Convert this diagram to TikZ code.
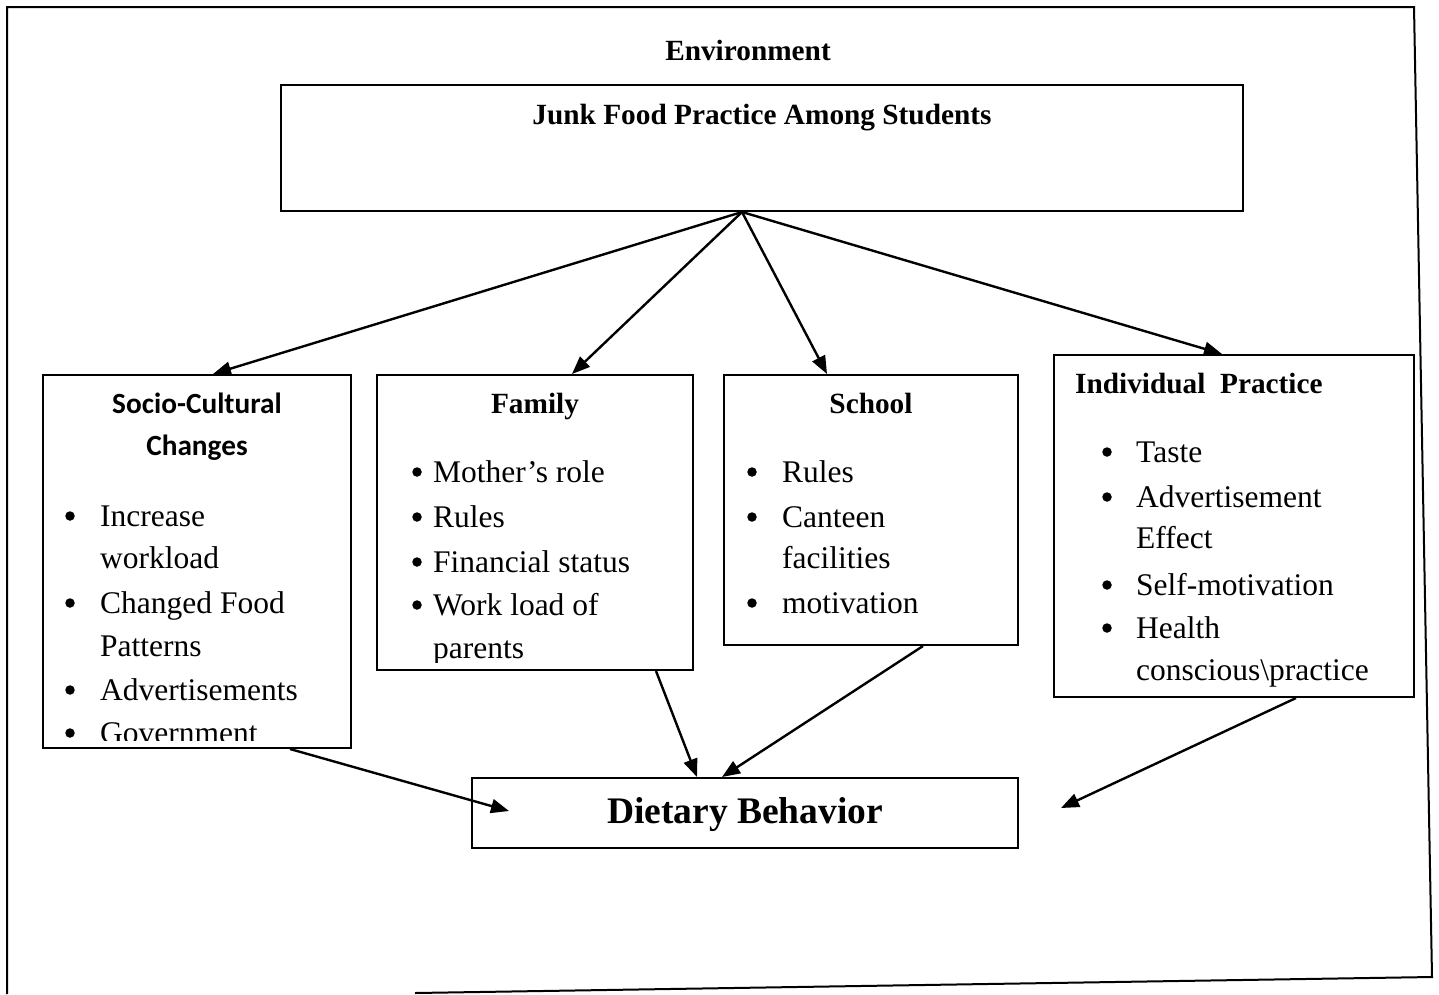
\documentclass[tikz,border=0pt]{standalone}
\usepackage{fontspec}
\setmainfont{Liberation Serif}
\newfontfamily\calibri{Carlito}
\usetikzlibrary{arrows.meta}

\begin{document}
\begin{tikzpicture}[x=1pt, y=-1pt,
    box/.style={draw, line width=2pt, inner sep=0pt},
    head/.style={font=\fontsize{29.3}{42}\selectfont\bfseries, inner sep=0pt, anchor=base},
    item/.style={font=\fontsize{31.5}{42}\selectfont, inner sep=0pt, anchor=base west},
    dot/.style={circle, fill, inner sep=0pt, minimum size=9.5pt},
    link/.style={line width=2.4pt, -{Triangle[length=18pt,width=14pt]}}]
\useasboundingbox (0,0) rectangle (1439,994);

% outer frame
\draw[line width=2pt] (7,994) -- (7,7) -- (1414,7) -- (1432,977) -- (415,993);
\node[head] (env) at (748,60) {Environment};

% boxes
\node[box, minimum width=962pt, minimum height=126pt] (junk) at (762,148) {};
\node[head] (junktitle) at (762,124) {Junk Food Practice Among Students};
\node[box, minimum width=308pt, minimum height=373pt] (soc) at (197,561.5) {};
\node[box, minimum width=316pt, minimum height=295pt] (fam) at (535,522.5) {};
\node[box, minimum width=294pt, minimum height=270pt] (sch) at (871,510) {};
\node[box, minimum width=360pt, minimum height=342pt] (ind) at (1234,526) {};
\node[box, minimum width=546pt, minimum height=70pt] (diet) at (745,813) {};
\node[head, font=\fontsize{37.5}{45}\selectfont\bfseries] (diettitle) at (745,823) {Dietary Behavior};

% socio-cultural
\node[head, font=\fontsize{29.3}{42}\selectfont\calibri\bfseries] (soct1) at (197,413) {Socio-Cultural};
\node[head, font=\fontsize{29.3}{42}\selectfont\calibri\bfseries] (soct2) at (197,455) {Changes};
\begin{scope}
  \clip (soc.north west) rectangle ([yshift=9pt]soc.south east);
  \foreach \y/\t [count=\i] in {526/Increase, 568/workload, 613/Changed Food, 656/Patterns, 700/Advertisements, 743/Government}
    \node[item] (soc\i) at (100,\y) {\t};
  \foreach \y [count=\i] in {526,613,700,743}
    \node[dot] (socdot\i) at (70,\y-10) {};
\end{scope}

% family
\node[head] (famt) at (535,413) {Family};
\begin{scope}
  \clip (fam.north west) rectangle ([yshift=9pt]fam.south east);
  \foreach \y/\t [count=\i] in {482/Mother’s role, 527/Rules, 572/Financial status, 615/Work load of, 658/parents}
    \node[item] (fam\i) at (433,\y) {\t};
  \foreach \y [count=\i] in {482,527,572,615}
    \node[dot] (famdot\i) at (417,\y-10) {};
\end{scope}

% school
\node[head] (scht) at (871,413) {School};
\foreach \y/\t [count=\i] in {482/Rules, 527/Canteen, 568/facilities, 613/motivation}
  \node[item] (sch\i) at (782,\y) {\t};
\foreach \y [count=\i] in {482,527,613}
  \node[dot] (schdot\i) at (752,\y-10) {};

% individual
\node[head, anchor=base west] (indt) at (1075,393) {Individual\ \ Practice};
\foreach \y/\t [count=\i] in {462/Taste, 507/Advertisement, 548/Effect, 595/Self-motivation, 638/Health, 680/{conscious\textbackslash practice}}
  \node[item] (ind\i) at (1136,\y) {\t};
\foreach \y [count=\i] in {462,507,595,638}
  \node[dot] (inddot\i) at (1107,\y-10) {};

% arrows
\coordinate (src) at ([xshift=-20pt]junk.south);
\draw[link] (src) -- ([xshift=16pt]soc.north);
\draw[link] (src) -- ([xshift=37pt]fam.north);
\draw[link] (src) -- ([xshift=-44pt]sch.north);
\draw[link] (src) -- ([xshift=-12pt]ind.north);
\draw[link] ([xshift=93pt]soc.south) -- ([shift={(38pt,2pt)}]diet.west);
\draw[link] ([xshift=121pt]fam.south) -- ([xshift=-48pt]diet.north);
\draw[link] ([xshift=52pt]sch.south) -- ([xshift=-23pt]diet.north);
\draw[link] ([xshift=62pt]ind.south) -- ([shift={(42pt,5pt)}]diet.east);
\end{tikzpicture}
\end{document}
